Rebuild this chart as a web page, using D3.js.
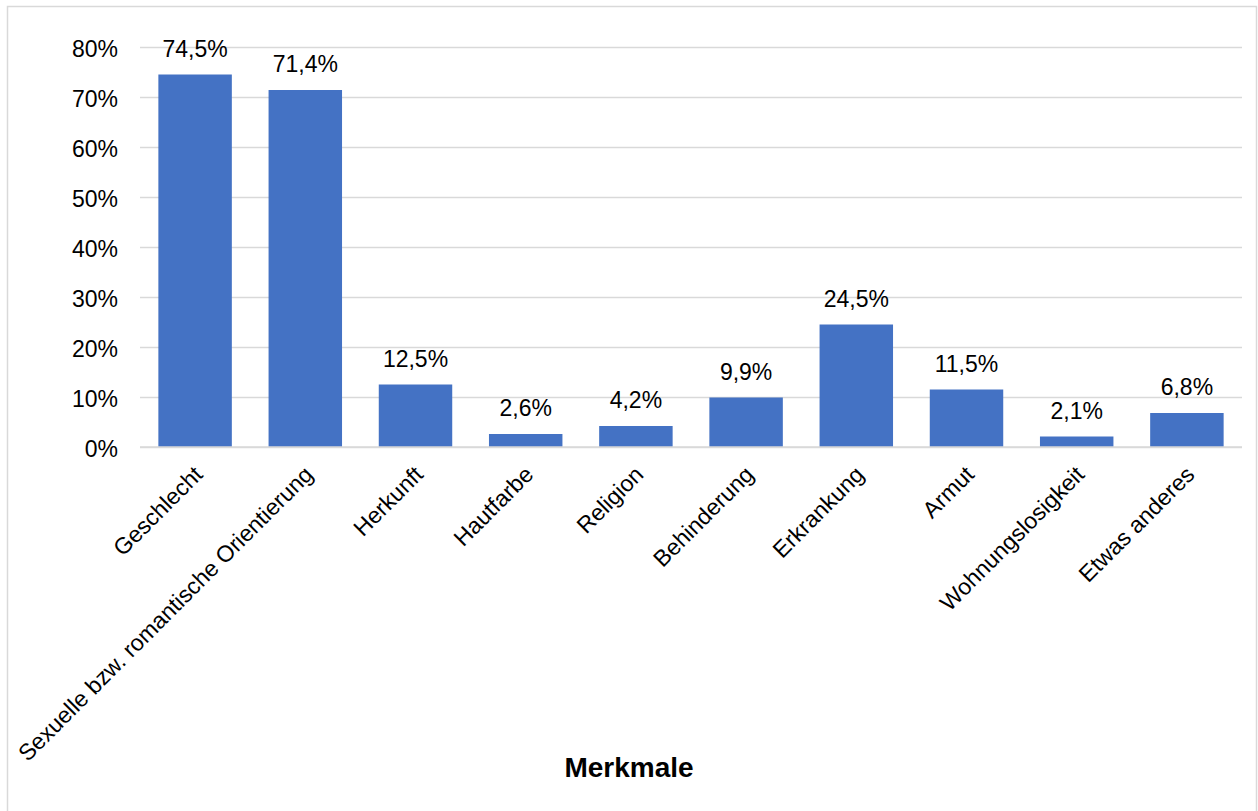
<!DOCTYPE html>
<html lang="de">
<head>
  <meta charset="UTF-8">
  <title>Merkmale</title>
  <script src="https://d3js.org/d3.v7.min.js"></script>
  <style>
    body {
      margin: 0;
      padding: 0;
      background: #fff;
      font-family: "Liberation Sans", Arial, sans-serif;
    }
  </style>
</head>
<body>
  <div id="chart"></div>

  <script>
    const categories = [
      "Geschlecht",
      "Sexuelle bzw. romantische Orientierung",
      "Herkunft",
      "Hautfarbe",
      "Religion",
      "Behinderung",
      "Erkrankung",
      "Armut",
      "Wohnungslosigkeit",
      "Etwas anderes"
    ];
    const values = [74.5, 71.4, 12.5, 2.6, 4.2, 9.9, 24.5, 11.5, 2.1, 6.8];
    const yTicks = [0, 10, 20, 30, 40, 50, 60, 70, 80];
    const axisTitle = "Merkmale";

    const W = 1258, H = 811;
    const plot = { left: 140, right: 1242, top: 47, bottom: 447 };
    const fs = 23;

    const svg = d3.select("#chart")
      .append("svg")
      .attr("width", W)
      .attr("height", H);

    // chart border
    svg.append("rect")
      .attr("x", 7.5)
      .attr("y", 6.5)
      .attr("width", 1249)
      .attr("height", 810)
      .attr("fill", "#fff")
      .attr("stroke", "#d9d9d9")
      .attr("stroke-width", 1.5);

    const x = d3.scaleBand()
      .domain(categories)
      .range([plot.left, plot.right])
      .paddingInner(1 / 3)
      .paddingOuter(1 / 6);

    const y = d3.scaleLinear()
      .domain([0, 80])
      .range([plot.bottom, plot.top]);

    // gridlines + y labels
    const yAxis = svg.append("g")
      .attr("transform", `translate(${plot.left},0)`)
      .call(d3.axisLeft(y)
        .tickValues(yTicks)
        .tickSize(-(plot.right - plot.left))
        .tickPadding(22)
        .tickFormat(d => d + "%"));
    yAxis.select(".domain").remove();
    yAxis.selectAll(".tick line")
      .attr("stroke", "#d9d9d9")
      .attr("stroke-width", 1.5);
    yAxis.selectAll(".tick text")
      .attr("font-size", fs)
      .attr("font-family", "'Liberation Sans', Arial, sans-serif")
      .attr("fill", "#000")
      .attr("dy", "0.42em");

    // bars
    svg.selectAll("rect.bar")
      .data(values)
      .join("rect")
      .attr("class", "bar")
      .attr("x", (d, i) => x(categories[i]))
      .attr("y", d => y(d))
      .attr("width", x.bandwidth())
      .attr("height", d => y(0) - y(d))
      .attr("fill", "#4472c4");

    // baseline
    svg.append("line")
      .attr("x1", plot.left)
      .attr("x2", plot.right)
      .attr("y1", y(0))
      .attr("y2", y(0))
      .attr("stroke", "#d9d9d9")
      .attr("stroke-width", 1.5);

    // data labels
    svg.selectAll("text.val")
      .data(values)
      .join("text")
      .attr("class", "val")
      .attr("x", (d, i) => x(categories[i]) + x.bandwidth() / 2)
      .attr("y", d => y(d) - 18)
      .attr("text-anchor", "middle")
      .attr("font-size", fs)
      .attr("fill", "#000")
      .text(d => d.toFixed(1).replace(".", ",") + "%");

    // category labels
    svg.selectAll("text.cat")
      .data(categories)
      .join("text")
      .attr("class", "cat")
      .attr("text-anchor", "end")
      .attr("font-size", fs)
      .attr("fill", "#000")
      .attr("transform", d => `translate(${x(d) + x.bandwidth() / 2 + 9},${y(0) + 29}) rotate(-45)`)
      .text(d => d);

    // axis title
    svg.append("text")
      .attr("x", 629)
      .attr("y", 777)
      .attr("text-anchor", "middle")
      .attr("font-size", 28)
      .attr("font-weight", "bold")
      .attr("fill", "#000")
      .text(axisTitle);
  </script>
</body>
</html>
